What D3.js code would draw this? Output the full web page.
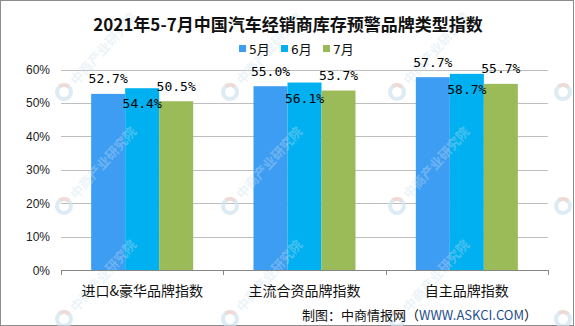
<!DOCTYPE html>
<html>
<head>
<meta charset="utf-8">
<script src="https://cdn.jsdelivr.net/npm/d3@7"></script>
<style>
  body { margin: 0; background: #fff; }
  svg { display: block; }
</style>
</head>
<body>
<svg id="chart"></svg>
<script>
// data
const categories = ["进口&豪华品牌指数", "主流合资品牌指数", "自主品牌指数"];
const seriesNames = ["5月", "6月", "7月"];
const may = [52.7, 55.0, 57.7];
const june = [54.4, 56.1, 58.7];
const july = [50.5, 53.7, 55.7];
const yTicks = [0, 10, 20, 30, 40, 50, 60];

const seriesValues = [may, june, july];
const colors = ["#3d9df3", "#00b0f0", "#9bbb59"];

const svgWidth = 575, svgHeight = 326;
const svg = d3.select("#chart")
    .attr("width", svgWidth)
    .attr("height", svgHeight);

// outer border
svg.append("rect")
    .attr("x", 0.5).attr("y", 0.5)
    .attr("width", 573).attr("height", 325)
    .attr("fill", "#fff")
    .attr("stroke", "#8c8c8c");

// scales
const x = d3.scaleBand()
    .domain(categories)
    .range([61, 548])
    .padding(0);

const xSub = d3.scaleBand()
    .domain(seriesNames)
    .range([0, x.bandwidth()])
    .paddingInner(0)
    .paddingOuter(0.887);

const y = d3.scaleLinear()
    .domain([0, 60])
    .range([270, 69.5]);

// gridlines
svg.append("g")
    .selectAll("line")
    .data(yTicks.filter(d => d > 0))
    .join("line")
    .attr("x1", 61).attr("x2", 548)
    .attr("y1", d => Math.round(y(d)) + 0.5)
    .attr("y2", d => Math.round(y(d)) + 0.5)
    .attr("stroke", "#bfbfbf");

// y labels
svg.append("g")
    .selectAll("text")
    .data(yTicks)
    .join("text")
    .attr("x", 50)
    .attr("y", d => y(d) + 4.5)
    .attr("text-anchor", "end")
    .style("font-family", "'Liberation Sans', Arial, sans-serif")
    .style("font-size", "12px")
    .style("fill", "#222")
    .text(d => d + "%");

// faint tiled watermark (over the bars, under the labels)
function drawWatermark() {
    const wmCols = [64, 230, 397, 563];
    const wmRows = [92, 206, 319];
    const wm = svg.append("g").attr("pointer-events", "none");
    wmRows.forEach(ry => {
        wmCols.forEach((cx, ci) => {
            const g = wm.append("g").attr("transform", `translate(${cx},${ry}) rotate(-48)`);
            g.append("circle")
                .attr("r", 7)
                .attr("fill", "none")
                .attr("stroke", "#cfe2f0")
                .attr("stroke-width", 4)
                .attr("opacity", 0.7);
            g.append("path")
                .attr("d", d3.arc()({ innerRadius: 5, outerRadius: 9, startAngle: 0.2, endAngle: 1.6 }))
                .attr("fill", "#f7d3c8")
                .attr("opacity", 0.7);
            if (ci === wmCols.length - 1) return; // last column: only the logo fits
            g.append("text")
                .attr("x", 13)
                .attr("y", 5)
                .style("font-family", "'Noto Sans CJK SC', sans-serif")
                .style("font-size", "13px")
                .style("font-weight", "bold")
                .style("fill", "#c9dfee")
                .attr("opacity", 0.35)
                .text("中商产业研究院");
        });
    });
}

// bars
const rows = [];
categories.forEach((c, i) => {
    seriesNames.forEach((s, j) => {
        rows.push({ cat: c, series: s, idx: j, value: seriesValues[j][i] });
    });
});

svg.append("g")
    .selectAll("rect")
    .data(rows)
    .join("rect")
    .attr("x", d => x(d.cat) + xSub(d.series))
    .attr("y", d => y(d.value))
    .attr("width", xSub.bandwidth())
    .attr("height", d => y(0) - y(d.value))
    .attr("fill", d => colors[d.idx]);

drawWatermark();

// x axis
const xAxis = svg.append("g")
    .attr("transform", "translate(0,270)");
xAxis.append("line")
    .attr("x1", 61).attr("x2", 548)
    .attr("y1", 0.5).attr("y2", 0.5)
    .attr("stroke", "#868686");
xAxis.selectAll("line.tick")
    .data([...categories.map(c => x(c)), 548])
    .join("line")
    .attr("class", "tick")
    .attr("x1", d => Math.round(d) + 0.5)
    .attr("x2", d => Math.round(d) + 0.5)
    .attr("y1", 0).attr("y2", 5)
    .attr("stroke", "#868686");
xAxis.selectAll("text")
    .data(categories)
    .join("text")
    .attr("x", d => x(d) + x.bandwidth() / 2)
    .attr("y", 26)
    .attr("text-anchor", "middle")
    .style("font-family", "'Noto Sans CJK SC', sans-serif")
    .style("font-size", "14px")
    .style("fill", "#111")
    .text(d => d);

// value labels: 6月 sits just under the bar top, others above
svg.append("g")
    .selectAll("text")
    .data(rows)
    .join("text")
    .attr("x", d => x(d.cat) + xSub(d.series) + xSub.bandwidth() / 2)
    .attr("y", d => d.idx === 1 ? y(d.value) + 20 : y(d.value) - 10.5)
    .attr("text-anchor", "middle")
    .style("font-family", "'DejaVu Sans Mono', monospace")
    .style("font-size", "13px")
    .style("fill", "#000")
    .text(d => d.value.toFixed(1) + "%");

// title
svg.append("text")
    .attr("x", 288)
    .attr("y", 31)
    .attr("text-anchor", "middle")
    .style("font-family", "'Noto Sans CJK SC', sans-serif")
    .style("font-size", "17px")
    .style("font-weight", "bold")
    .style("fill", "#111")
    .text("2021年5-7月中国汽车经销商库存预警品牌类型指数");

// legend
const legend = svg.append("g")
    .selectAll("g")
    .data(seriesNames)
    .join("g")
    .attr("transform", (d, i) => `translate(${239 + i * 42},49)`);
legend.append("rect")
    .attr("x", 0).attr("y", -4)
    .attr("width", 7).attr("height", 7)
    .attr("fill", (d, i) => colors[i]);
legend.append("text")
    .attr("x", 10)
    .attr("y", 5)
    .style("font-family", "'DejaVu Sans Mono', 'Noto Sans CJK SC', monospace")
    .style("font-size", "13px")
    .style("fill", "#111")
    .text(d => d);

// source
const src = svg.append("text")
    .attr("x", 537)
    .attr("y", 320)
    .attr("text-anchor", "end")
    .style("font-family", "'Noto Sans CJK SC', sans-serif")
    .style("font-size", "13px")
    .style("fill", "#111");
src.append("tspan").text("制图：中商情报网（");
src.append("tspan").style("fill", "#1f4e8c").text("WWW.ASKCI.COM");
src.append("tspan").text("）");
</script>
</body>
</html>
